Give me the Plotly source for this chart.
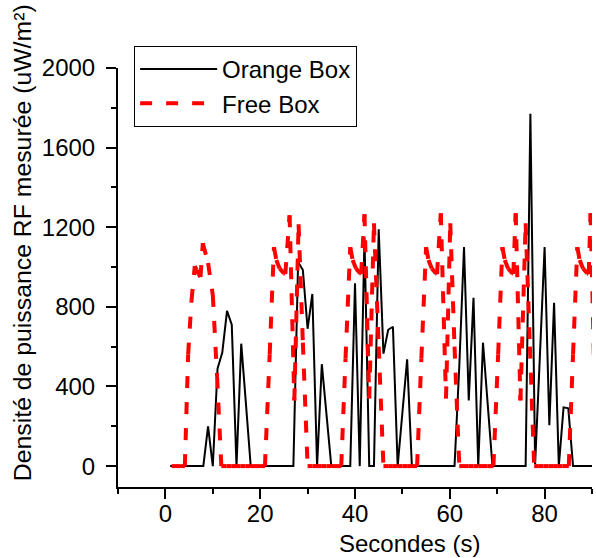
import plotly.graph_objects as go

# ---------------- data ----------------
orange_t = list(range(1, 91))
orange_v = [0, 0, 0, 0, 0, 0, 0, 0, 200, 0,
            490, 570, 780, 710, 0, 615, 310, 0, 0, 0,
            0, 0, 0, 0, 0, 0, 0, 1025, 985, 690,
            865, 0, 512, 256, 0, 0, 0, 0, 0, 918,
            0, 1150, 0, 0, 1190, 565, 685, 700, 0, 268,
            536, 0, 0, 0, 0, 0, 0, 0, 0, 0,
            0, 500, 1100, 330, 845, 0, 620, 310, 0, 0,
            0, 0, 0, 0, 0, 0, 1770, 10, 550, 1100,
            205, 820, 0, 295, 290, 0, 0, 0, 0, 0]

free_t = [1.3, 2.2, 3.2, 4.1, 4.8, 5.5, 6.2, 6.6, 7.0, 7.4, 7.9, 9.0, 10.0, 10.9, 11.8,
          12.9, 13.9, 14.9, 15.9, 16.9, 17.9, 18.9, 20.0, 21.0,
          22.0, 22.9, 23.4, 24.1, 25.0, 25.3, 26.2, 27.2, 28.1, 29.0, 30.0,
          31.0, 32.0, 33.0, 34.0, 35.0, 36.0, 37.1,
          38.0, 39.0, 39.5, 40.2, 41.1, 41.3, 42.0, 43.0, 44.0, 45.0, 46.0,
          47.0, 48.0, 49.0, 50.0, 51.0, 52.0, 53.1,
          54.0, 55.0, 55.5, 56.2, 57.1, 57.3, 58.1, 59.2, 60.1, 61.0, 62.0,
          63.0, 64.0, 65.0, 66.0, 67.0, 68.0, 69.2,
          70.2, 71.1, 71.6, 72.3, 73.2, 73.4, 73.9, 74.9, 76.0, 76.9, 77.8,
          78.8, 79.8, 80.8, 81.8, 82.8, 83.8, 85.1,
          86.0, 86.9, 87.4, 88.1, 89.0, 89.3, 89.7, 90.6]
free_v = [0, 0, 0, 0, 560, 830, 1005, 985, 965, 950, 1120, 1020, 860, 450, 0,
          0, 0, 0, 0, 0, 0, 0, 0, 0,
          560, 1100, 1035, 993, 968, 965, 1260, 330, 1215, 620, 0,
          0, 0, 0, 0, 0, 0, 0,
          540, 1100, 1035, 993, 968, 965, 1265, 340, 1220, 600, 0,
          0, 0, 0, 0, 0, 0, 0,
          540, 1100, 1035, 993, 968, 965, 1270, 340, 1220, 600, 0,
          0, 0, 0, 0, 0, 0, 0,
          560, 1100, 1035, 993, 968, 965, 1270, 330, 1220, 600, 0,
          0, 0, 0, 0, 0, 0, 0,
          560, 1100, 1035, 993, 968, 965, 1270, 330]

x_ticks = [0, 20, 40, 60, 80]
y_ticks = [0, 400, 800, 1200, 1600, 2000]

FONT = "Liberation Sans, Arial, sans-serif"

fig = go.Figure()

fig.add_trace(go.Scatter(
    x=orange_t, y=orange_v, mode="lines", name="Orange Box",
    line=dict(color="black", width=2), legendrank=1))

# Origin restarts the dash pattern at each data point: draw segment by segment
for i in range(len(free_t) - 1):
    fig.add_trace(go.Scatter(
        x=free_t[i:i + 2], y=free_v[i:i + 2], mode="lines", name="Free Box",
        line=dict(color="red", width=4, dash="12px,14px"),
        legendgroup="free", showlegend=(i == 0), legendrank=2))

axis_common = dict(
    showline=True, linecolor="black", linewidth=2, mirror=False,
    ticks="outside", ticklen=10, tickwidth=2, tickcolor="black",
    showgrid=False, zeroline=False, automargin=False,
    tickfont=dict(family=FONT, size=24, color="black"),
)

fig.update_xaxes(range=[-10, 90], tickvals=x_ticks,
                 minor=dict(dtick=10, tick0=0, ticks="outside", ticklen=5,
                            tickwidth=2, tickcolor="black"),
                 ticklabelstandoff=-6,
                 **axis_common)
fig.update_yaxes(range=[-105, 2000], tickvals=y_ticks,
                 minor=dict(dtick=200, tick0=0, ticks="outside", ticklen=5,
                            tickwidth=2, tickcolor="black"),
                 ticklabelstandoff=6,
                 **axis_common)

fig.add_annotation(text="Densité de puissance RF mesurée (uW/m²)",
                   xref="paper", yref="paper", x=-0.2025, y=0.582,
                   xanchor="center", yanchor="middle", textangle=-90,
                   showarrow=False, font=dict(family=FONT, size=24.8, color="black"))
fig.add_annotation(text="Secondes (s)",
                   xref="paper", yref="paper", x=0.614, y=-0.134,
                   xanchor="center", yanchor="middle",
                   showarrow=False, font=dict(family=FONT, size=24, color="black"))

fig.update_layout(
    width=596, height=558,
    margin=dict(l=118, r=4, t=68, b=71, autoexpand=False),
    paper_bgcolor="white", plot_bgcolor="white",
    showlegend=True,
    legend=dict(x=0.034, y=1.0525, xanchor="left", yanchor="top",
                bgcolor="white", bordercolor="black", borderwidth=1,
                font=dict(family=FONT, size=24, color="black"),
                itemwidth=77, tracegroupgap=0),
)

fig.write_html("out.html",
               config={"displayModeBar": False},
               post_script="document.body.style.margin='0';"
                           "document.body.style.overflow='hidden';")
